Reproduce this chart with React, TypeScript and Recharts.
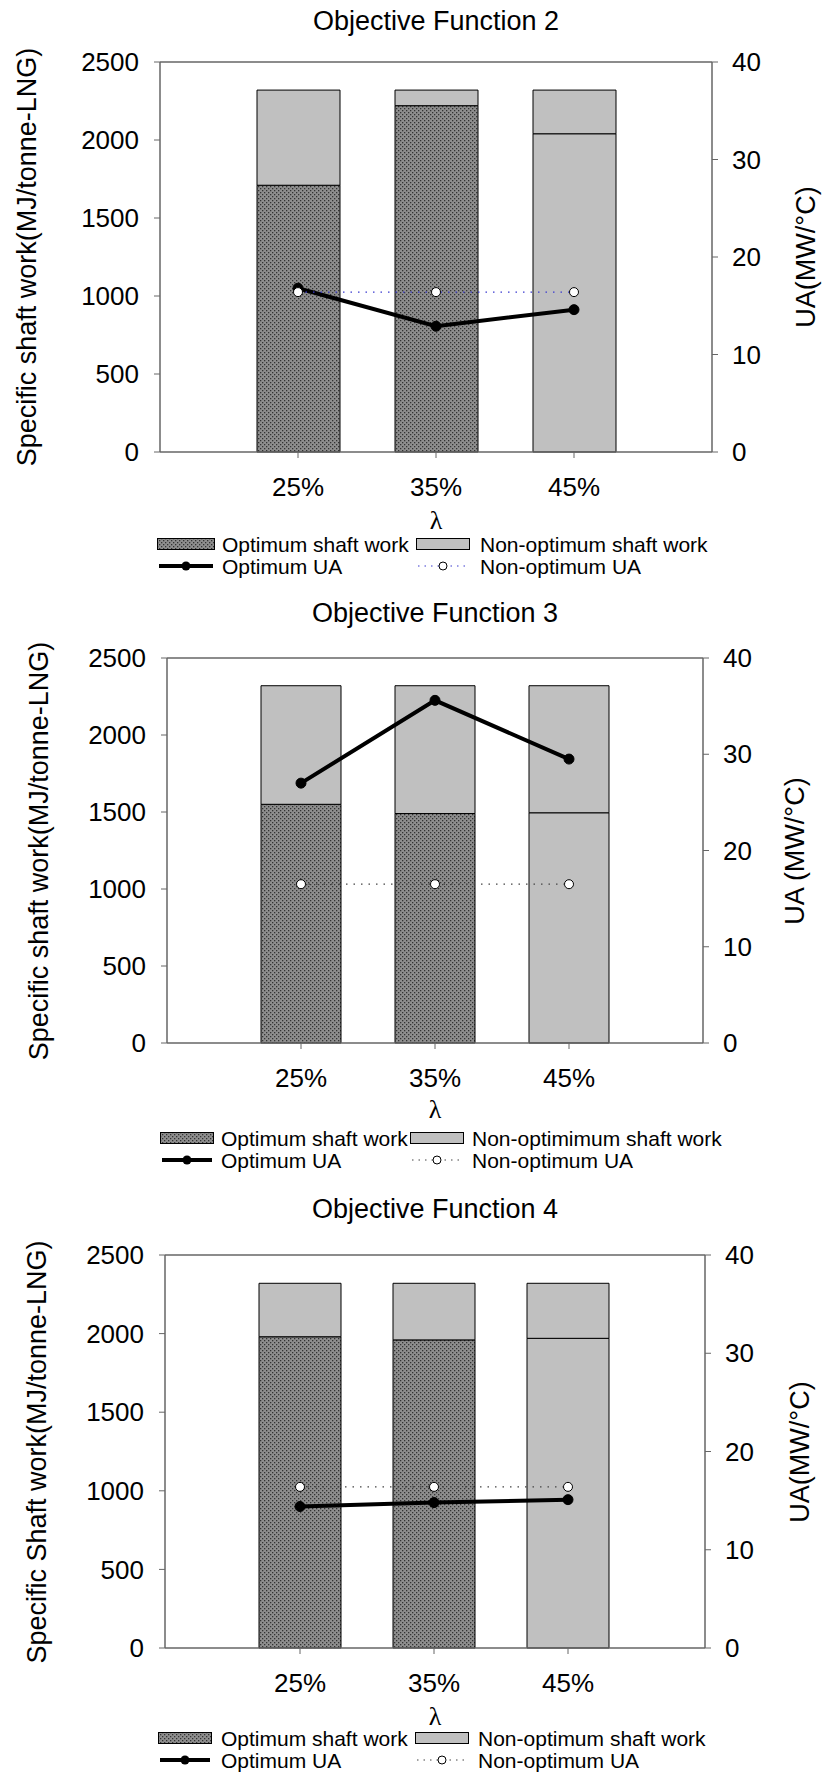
import { ComposedChart, Bar, Line, XAxis, YAxis, Cell, ReferenceLine } from 'recharts'

const LAMBDA = ['25%', '35%', '45%']

// Objective Function 2
const OF2_OPT_WORK = [1710, 2220, 2040]
const OF2_NONOPT_WORK = [2320, 2320, 2320]
const OF2_OPT_UA = [16.8, 12.9, 14.6]
const OF2_NONOPT_UA = [16.4, 16.4, 16.4]

// Objective Function 3
const OF3_OPT_WORK = [1550, 1490, 1495]
const OF3_NONOPT_WORK = [2320, 2320, 2320]
const OF3_OPT_UA = [27.0, 35.6, 29.5]
const OF3_NONOPT_UA = [16.5, 16.5, 16.5]

// Objective Function 4
const OF4_OPT_WORK = [1980, 1960, 1970]
const OF4_NONOPT_WORK = [2320, 2320, 2320]
const OF4_OPT_UA = [14.4, 14.8, 15.1]
const OF4_NONOPT_UA = [16.4, 16.4, 16.4]

const WORK_TICKS = [0, 500, 1000, 1500, 2000, 2500]
const UA_TICKS = [0, 10, 20, 30, 40]

const FONT = '"Liberation Sans", Arial, sans-serif'
const AXIS = '#666'
const LIGHT = '#c0c0c0'
const W = 826

type Layout = {
  top: number
  height: number
  plotTop: number
  plotBottom: number
  plotLeft: number
  plotRight: number
  padL: number
  padR: number
  barSize: number
  titleY: number
  leftLabelX: number
  rightLabelX: number
  lambdaY: number
  leg1Y: number
  leg2Y: number
  // legend columns: swatch left/width and text left
  sw1: number
  sw1W: number
  tx1: number
  sw2: number
  sw2W: number
  tx2: number
}

type PanelProps = {
  title: string
  leftLabel: string
  rightLabel: string
  nonOptWorkLabel: string
  optWork: number[]
  nonOptWork: number[]
  optUA: number[]
  nonOptUA: number[]
  nonOptColor: string
  lay: Layout
}

const abs = (x: number, y: number, extra: React.CSSProperties = {}): React.CSSProperties => ({
  position: 'absolute',
  left: x,
  top: y,
  whiteSpace: 'nowrap',
  fontFamily: FONT,
  color: '#000',
  lineHeight: 1,
  ...extra,
})

function Legend({ lay, nonOptColor, nonOptWorkLabel }: { lay: Layout; nonOptColor: string; nonOptWorkLabel: string }) {
  const text = (x: number, y: number, s: string) => (
    <div style={abs(x, y, { fontSize: 21, transform: 'translateY(-50%)' })}>{s}</div>
  )
  return (
    <>
      <svg style={{ position: 'absolute', left: lay.sw1, top: lay.leg1Y - 6 }} width={lay.sw1W} height={12}>
        <rect x={0.5} y={0.5} width={lay.sw1W - 1} height={11} fill="url(#stipple)" stroke="#000" />
      </svg>
      {text(lay.tx1, lay.leg1Y, 'Optimum shaft work')}
      <svg style={{ position: 'absolute', left: lay.sw2, top: lay.leg1Y - 6 }} width={lay.sw2W} height={12}>
        <rect x={0.5} y={0.5} width={lay.sw2W - 1} height={11} fill={LIGHT} stroke="#000" />
      </svg>
      {text(lay.tx2, lay.leg1Y, nonOptWorkLabel)}
      <svg style={{ position: 'absolute', left: lay.sw1, top: lay.leg2Y - 6 }} width={lay.sw1W} height={12}>
        <line x1={2} y1={6} x2={lay.sw1W - 2} y2={6} stroke="#000" strokeWidth={4} />
        <circle cx={lay.sw1W / 2} cy={6} r={4.5} fill="#000" />
      </svg>
      {text(lay.tx1, lay.leg2Y, 'Optimum UA')}
      <svg style={{ position: 'absolute', left: lay.sw2, top: lay.leg2Y - 6 }} width={lay.sw2W} height={12}>
        <line x1={2} y1={6} x2={lay.sw2W - 2} y2={6} stroke={nonOptColor} strokeWidth={1.2} strokeDasharray="1.5 5" />
        <circle cx={lay.sw2W / 2} cy={6} r={4} fill="#fff" stroke="#000" />
      </svg>
      {text(lay.tx2, lay.leg2Y, 'Non-optimum UA')}
    </>
  )
}

function Panel({ title, leftLabel, rightLabel, nonOptWorkLabel, optWork, nonOptWork, optUA, nonOptUA, nonOptColor, lay }: PanelProps) {
  const data = LAMBDA.map((l, i) => ({
    lambda: l,
    opt: optWork[i],
    rest: nonOptWork[i] - optWork[i],
    optUA: optUA[i],
    nonOptUA: nonOptUA[i],
  }))
  const xAxisH = 60
  const plotMidY = (lay.plotTop + lay.plotBottom) / 2
  const plotMidX = (lay.plotLeft + lay.plotRight) / 2
  const tickStyle = { fill: '#000', fontSize: 26, fontFamily: FONT }

  return (
    <div style={{ position: 'absolute', left: 0, top: lay.top, width: W, height: lay.height }}>
      <ComposedChart
        width={W}
        height={lay.height}
        data={data}
        margin={{ top: lay.plotTop, right: 0, left: 0, bottom: lay.height - lay.plotBottom - xAxisH }}
      >
        <XAxis
          dataKey="lambda"
          padding={{ left: lay.padL, right: lay.padR }}
          height={xAxisH}
          interval={0}
          tickSize={6}
          tickMargin={20}
          axisLine={{ stroke: AXIS, strokeWidth: 1.5 }}
          tickLine={{ stroke: AXIS }}
          tick={tickStyle}
        />
        <YAxis
          yAxisId="work"
          width={lay.plotLeft}
          domain={[0, 2500]}
          ticks={WORK_TICKS}
          interval={0}
          tickSize={6}
          tickMargin={15}
          axisLine={{ stroke: AXIS, strokeWidth: 1.5 }}
          tickLine={{ stroke: AXIS }}
          tick={tickStyle}
        />
        <YAxis
          yAxisId="ua"
          orientation="right"
          width={W - lay.plotRight}
          domain={[0, 40]}
          ticks={UA_TICKS}
          interval={0}
          tickSize={6}
          tickMargin={14}
          axisLine={{ stroke: AXIS, strokeWidth: 1.5 }}
          tickLine={{ stroke: AXIS }}
          tick={{ ...tickStyle, textAnchor: 'start' }}
        />
        <ReferenceLine yAxisId="work" y={2500} stroke={AXIS} strokeWidth={1.5} />
        <Bar yAxisId="work" dataKey="opt" stackId="w" barSize={lay.barSize} stroke="#000" strokeWidth={1} isAnimationActive={false}>
          {data.map((d, i) => (
            <Cell key={d.lambda} fill={i === 2 ? LIGHT : 'url(#stipple)'} />
          ))}
        </Bar>
        <Bar yAxisId="work" dataKey="rest" stackId="w" barSize={lay.barSize} fill={LIGHT} stroke="#000" strokeWidth={1} isAnimationActive={false} />
        <Line
          yAxisId="ua"
          dataKey="optUA"
          type="linear"
          stroke="#000"
          strokeWidth={4}
          dot={{ r: 5, fill: '#000', stroke: '#000', strokeWidth: 1 }}
          isAnimationActive={false}
        />
        <Line
          yAxisId="ua"
          dataKey="nonOptUA"
          type="linear"
          stroke={nonOptColor}
          strokeWidth={1.2}
          strokeDasharray="1.5 6"
          dot={{ r: 4.5, fill: '#fff', stroke: '#000', strokeWidth: 1, strokeDasharray: 'none' }}
          isAnimationActive={false}
        />
      </ComposedChart>

      <div style={abs(plotMidX, lay.titleY, { fontSize: 27, transform: 'translate(-50%, -50%)' })}>{title}</div>
      <div style={abs(lay.leftLabelX, plotMidY, { fontSize: 27, transform: 'translate(-50%, -50%) rotate(-90deg)' })}>
        {leftLabel}
      </div>
      <div style={abs(lay.rightLabelX, plotMidY, { fontSize: 27, transform: 'translate(-50%, -50%) rotate(-90deg)' })}>
        {rightLabel}
      </div>
      <div
        style={abs(plotMidX, lay.lambdaY, {
          fontSize: 26,
          fontFamily: '"Liberation Serif", serif',
          transform: 'translate(-50%, -50%)',
        })}
      >
        λ
      </div>
      <Legend lay={lay} nonOptColor={nonOptColor} nonOptWorkLabel={nonOptWorkLabel} />
    </div>
  )
}

const LAYOUT_2: Layout = {
  top: 0, height: 590, plotTop: 62, plotBottom: 452, plotLeft: 160, plotRight: 712,
  padL: 69, padR: 69, barSize: 83, titleY: 21, leftLabelX: 27, rightLabelX: 806,
  lambdaY: 521, leg1Y: 544, leg2Y: 566,
  sw1: 157, sw1W: 58, tx1: 222, sw2: 416, sw2W: 54, tx2: 480,
}
const LAYOUT_3: Layout = {
  top: 590, height: 590, plotTop: 68, plotBottom: 453, plotLeft: 167, plotRight: 703,
  padL: 67, padR: 67, barSize: 80, titleY: 23, leftLabelX: 39, rightLabelX: 795,
  lambdaY: 520, leg1Y: 548, leg2Y: 570,
  sw1: 160, sw1W: 54, tx1: 221, sw2: 410, sw2W: 54, tx2: 472,
}
const LAYOUT_4: Layout = {
  top: 1180, height: 594, plotTop: 75, plotBottom: 468, plotLeft: 165, plotRight: 705,
  padL: 68, padR: 70, barSize: 82, titleY: 29, leftLabelX: 37, rightLabelX: 800,
  lambdaY: 537, leg1Y: 558, leg2Y: 580,
  sw1: 158, sw1W: 54, tx1: 221, sw2: 415, sw2W: 54, tx2: 478,
}

export default function App() {
  return (
    <div style={{ position: 'absolute', left: 0, top: 0, width: W, height: 1774, background: '#fff', overflow: 'hidden' }}>
      <svg width={0} height={0} style={{ position: 'absolute' }}>
        <defs>
          <pattern id="stipple" patternUnits="userSpaceOnUse" width={4} height={4}>
            <rect x={0} y={0} width={4} height={4} fill="#8e8e8e" />
            <rect x={0} y={0} width={1.3} height={1.3} fill="#333" />
            <rect x={2} y={2} width={1.3} height={1.3} fill="#333" />
          </pattern>
        </defs>
      </svg>
      <Panel
        title="Objective Function 2"
        leftLabel="Specific shaft work(MJ/tonne-LNG)"
        rightLabel="UA(MW/°C)"
        nonOptWorkLabel="Non-optimum shaft work"
        optWork={OF2_OPT_WORK}
        nonOptWork={OF2_NONOPT_WORK}
        optUA={OF2_OPT_UA}
        nonOptUA={OF2_NONOPT_UA}
        nonOptColor="#3a3ad0"
        lay={LAYOUT_2}
      />
      <Panel
        title="Objective Function 3"
        leftLabel="Specific shaft work(MJ/tonne-LNG)"
        rightLabel="UA (MW/°C)"
        nonOptWorkLabel="Non-optimimum shaft work"
        optWork={OF3_OPT_WORK}
        nonOptWork={OF3_NONOPT_WORK}
        optUA={OF3_OPT_UA}
        nonOptUA={OF3_NONOPT_UA}
        nonOptColor="#444"
        lay={LAYOUT_3}
      />
      <Panel
        title="Objective Function 4"
        leftLabel="Specific Shaft work(MJ/tonne-LNG)"
        rightLabel="UA(MW/°C)"
        nonOptWorkLabel="Non-optimum shaft work"
        optWork={OF4_OPT_WORK}
        nonOptWork={OF4_NONOPT_WORK}
        optUA={OF4_OPT_UA}
        nonOptUA={OF4_NONOPT_UA}
        nonOptColor="#444"
        lay={LAYOUT_4}
      />
    </div>
  )
}
